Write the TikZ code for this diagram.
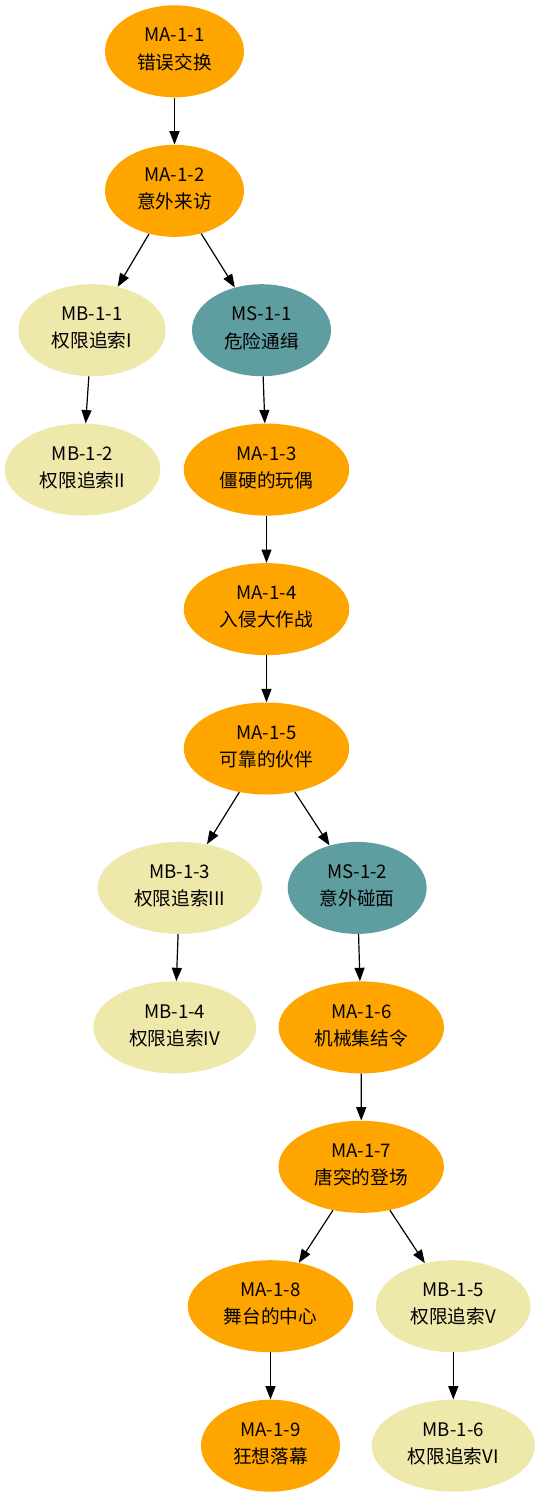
\documentclass[tikz,border=0pt]{standalone}
\usepackage{fontspec}
\setmainfont{Noto Sans CJK SC}
\usetikzlibrary{shapes.geometric,arrows.meta}
\definecolor{gvorange}{RGB}{255,165,0}
\definecolor{gvgold}{RGB}{238,232,170}
\definecolor{gvcadet}{RGB}{95,158,160}
\tikzset{
  gnode/.style={ellipse, inner sep=0pt, minimum height=69pt, align=center,
    font=\fontsize{14pt}{20.3pt}\selectfont, text=black, draw=none, text depth=4pt},
  ma/.style={gnode, fill=gvorange},
  mb/.style={gnode, fill=gvgold},
  ms/.style={gnode, fill=gvcadet},
  edge/.style={draw=black, line width=0.9pt, -{Triangle[length=10pt,width=7.5pt]}}
}
\begin{document}
\begin{tikzpicture}[x=0.75pt, y=-0.75pt]
\useasboundingbox (0,0) rectangle (539,1497);
\node[ma, minimum width=104.25pt] (ma11) at (174.5,51.3) {MA-1-1\\错误交换};
\node[ma, minimum width=104.25pt] (ma12) at (174.5,190.8) {MA-1-2\\意外来访};
\node[mb, minimum width=110.5pt] (mb11) at (92,330.2) {MB-1-1\\权限追索I};
\node[ms, minimum width=104.25pt] (ms11) at (261.5,330.2) {MS-1-1\\危险通缉};
\node[mb, minimum width=116.7pt] (mb12) at (82.5,469.6) {MB-1-2\\权限追索II};
\node[ma, minimum width=124.1pt] (ma13) at (266.5,469.6) {MA-1-3\\僵硬的玩偶};
\node[ma, minimum width=124.1pt] (ma14) at (266.5,609.1) {MA-1-4\\入侵大作战};
\node[ma, minimum width=124.1pt] (ma15) at (266.5,748.5) {MA-1-5\\可靠的伙伴};
\node[mb, minimum width=123.3pt] (mb13) at (179.8,887.9) {MB-1-3\\权限追索III};
\node[ms, minimum width=104.25pt] (ms12) at (357.2,887.9) {MS-1-2\\意外碰面};
\node[mb, minimum width=122pt] (mb14) at (174.7,1027.4) {MB-1-4\\权限追索IV};
\node[ma, minimum width=124.1pt] (ma16) at (361.3,1027.4) {MA-1-6\\机械集结令};
\node[ma, minimum width=124.1pt] (ma17) at (361.2,1166.8) {MA-1-7\\唐突的登场};
\node[ma, minimum width=124.1pt] (ma18) at (270.5,1306.2) {MA-1-8\\舞台的中心};
\node[mb, minimum width=116pt] (mb15) at (453.3,1306.2) {MB-1-5\\权限追索V};
\node[ma, minimum width=104.25pt] (ma19) at (270.5,1445.7) {MA-1-9\\狂想落幕};
\node[mb, minimum width=122.5pt] (mb16) at (453.3,1445.7) {MB-1-6\\权限追索VI};
\draw[edge] (ma11) -- (ma12);
\draw[edge] (ma12) -- (mb11);
\draw[edge] (ma12) -- (ms11);
\draw[edge] (mb11) -- (mb12);
\draw[edge] (ms11) -- (ma13);
\draw[edge] (ma13) -- (ma14);
\draw[edge] (ma14) -- (ma15);
\draw[edge] (ma15) -- (mb13);
\draw[edge] (ma15) -- (ms12);
\draw[edge] (mb13) -- (mb14);
\draw[edge] (ms12) -- (ma16);
\draw[edge] (ma16) -- (ma17);
\draw[edge] (ma17) -- (ma18);
\draw[edge] (ma17) -- (mb15);
\draw[edge] (ma18) -- (ma19);
\draw[edge] (mb15) -- (mb16);
\end{tikzpicture}
\end{document}
